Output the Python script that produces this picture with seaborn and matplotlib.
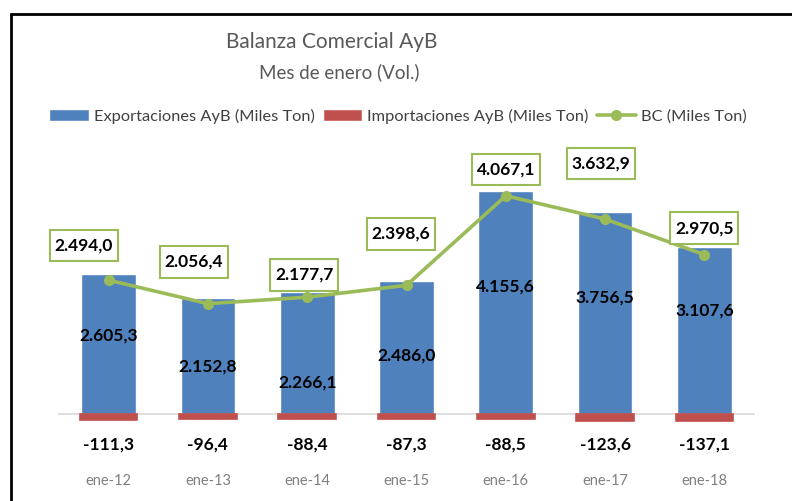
import numpy as np
import pandas as pd
import matplotlib
matplotlib.use("Agg")
import matplotlib.pyplot as plt
import seaborn as sns
from matplotlib.patches import Patch, Rectangle
from matplotlib.lines import Line2D
from matplotlib.path import Path

# data
periodos = ["ene-12", "ene-13", "ene-14", "ene-15", "ene-16", "ene-17", "ene-18"]
exportaciones = [2605.3, 2152.8, 2266.1, 2486.0, 4155.6, 3756.5, 3107.6]
importaciones = [-111.3, -96.4, -88.4, -87.3, -88.5, -123.6, -137.1]
balanza = [2494.0, 2056.4, 2177.7, 2398.6, 4067.1, 3632.9, 2970.5]

# where the labels sit (fraction of bar / offset in points from the point)
exp_label_frac = [0.565, 0.415, 0.263, 0.435, 0.57, 0.58, 0.618]
bc_label_dx = [-18, -10, -2, -4, 0, -3, 0]
bc_label_dy = [25, 30, 16, 37, 19, 40, 19]

AZUL = "#4F81BD"
ROJO = "#C0504D"
VERDE = "#9BBB59"


def fmt(v):
    s = f"{v:,.1f}"
    return s.replace(",", "X").replace(".", ",").replace("X", ".")


def caja(x0, y0, width, height, mutation_size):
    # rectangular label box, a bit taller than wide padding
    px = 0.28 * mutation_size
    py = 0.45 * mutation_size
    x0, x1 = x0 - px, x0 + width + px
    y0, y1 = y0 - py, y0 + height + py
    return Path([(x0, y0), (x1, y0), (x1, y1), (x0, y1), (x0, y0)],
                closed=True)


sns.set_theme(style="white")
plt.rcParams["font.family"] = ["Lato", "DejaVu Sans"]

df = pd.DataFrame({"periodo": periodos, "exp": exportaciones,
                   "imp": importaciones, "bc": balanza})

fig = plt.figure(figsize=(7.92, 5.01), dpi=100)
ax = fig.add_axes([59 / 792, 1 - 430 / 501, (754 - 59) / 792, (430 - 150) / 501])

sns.barplot(data=df, x="periodo", y="exp", color=AZUL, width=0.55,
            saturation=1, ax=ax, zorder=2)
sns.barplot(data=df, x="periodo", y="imp", color=ROJO, width=0.58,
            saturation=1, edgecolor=ROJO, linewidth=1.2, ax=ax, zorder=2)
sns.lineplot(x=np.arange(len(periodos)), y=df["bc"], color=VERDE,
             linewidth=2.6, marker="o", markersize=8, markeredgewidth=0,
             ax=ax, zorder=4)

ax.set_xlim(-0.5, len(periodos) - 0.5)
ax.set_ylim(-298, 4920)
ax.set_xlabel("")
ax.set_ylabel("")
ax.set_yticks([])

for s in ["top", "right", "left"]:
    ax.spines[s].set_visible(False)
ax.spines["bottom"].set_position(("data", 0))
ax.spines["bottom"].set_color("#D9D9D9")
ax.spines["bottom"].set_linewidth(1.2)
ax.spines["bottom"].set_zorder(1)

ax.set_xticks(range(len(periodos)))
ax.set_xticklabels(periodos)
ax.set_xticks(np.arange(-0.5, len(periodos)), minor=True)
ax.tick_params(axis="x", which="major", length=0, pad=43, labelsize=10.5,
               labelcolor="#808080")
ax.tick_params(axis="x", which="minor", length=4, direction="in",
               color="#D9D9D9", width=1.2)

for i in range(len(periodos)):
    ax.text(i, exportaciones[i] * exp_label_frac[i], fmt(exportaciones[i]),
            ha="center", va="center", fontsize=12.5, fontweight="bold",
            color="black", zorder=5)
    ax.annotate(fmt(importaciones[i]), xy=(i, 0), xytext=(0, -22),
                textcoords="offset points", ha="center", va="center",
                fontsize=12.5, fontweight="bold", color="black")
    ax.annotate(fmt(balanza[i]), xy=(i, balanza[i]),
                xytext=(bc_label_dx[i], bc_label_dy[i]),
                textcoords="offset points", ha="center", va="center",
                fontsize=12.5, fontweight="bold", color="black", zorder=6,
                bbox=dict(boxstyle=caja, fc="white", ec=VERDE, lw=1.5))

fig.text(332 / 792, 1 - 42 / 501, "Balanza Comercial AyB", ha="center",
         va="center", fontsize=15, color="#595959")
fig.text(339 / 792, 1 - 72 / 501, "Mes de enero (Vol.)", ha="center",
         va="center", fontsize=13.5, color="#595959")

handles = [
    Patch(facecolor=AZUL, label="Exportaciones AyB (Miles Ton)"),
    Patch(facecolor=ROJO, label="Importaciones AyB (Miles Ton)"),
    Line2D([], [], color=VERDE, lw=2.6, marker="o", markersize=7,
           label="BC (Miles Ton)"),
]
fig.legend(handles=handles, loc="center", bbox_to_anchor=(398 / 792, 1 - 116 / 501),
           ncol=3, frameon=False, fontsize=11.8, handlelength=2.4,
           handleheight=0.7, handletextpad=0.3, columnspacing=0.5,
           labelcolor="#404040")

# outer chart frame (top and left edge visible)
fig.add_artist(Rectangle((11 / 792, -0.2), 1.2, 1 - 14 / 501 + 0.2,
                         transform=fig.transFigure, fill=False,
                         ec="black", lw=2))

fig.savefig("out.png", dpi=100)
